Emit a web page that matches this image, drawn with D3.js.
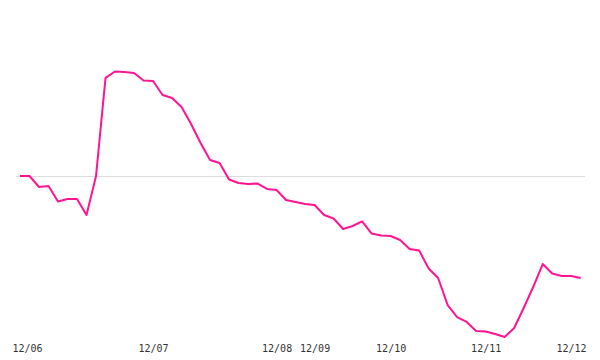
<!DOCTYPE html>
<html>
<head>
<meta charset="utf-8">
<script src="https://cdn.jsdelivr.net/npm/d3@7"></script>
<style>
  html, body { margin: 0; padding: 0; background: #fff; }
  svg { display: block; }
</style>
</head>
<body>
<svg id="chart" width="600" height="360"></svg>
<script>
// Series values (index relative to the first point = 100)
const values = [
  100, 100, 93.3, 93.9, 84.5, 86.0, 86.0, 76.2, 100, 159.8,
  163.7, 163.4, 162.8, 158.2, 157.9, 149.4, 147.6, 142.1, 131.7, 120.1,
  109.8, 107.9, 97.9, 95.7, 95.1, 95.4, 92.1, 91.5, 85.4, 84.1,
  82.9, 82.3, 76.2, 74.1, 67.7, 69.5, 72.3, 64.9, 63.7, 63.4,
  61.0, 55.5, 54.6, 43.6, 37.8, 21.3, 14.0, 11.0, 5.5, 5.2,
  3.7, 1.8, 7.3, 19.5, 32.3, 46.3, 40.5, 39.0, 39.0, 37.8
];
// Tick labels and the point index each belongs to
const tickLabels = ["12/06", "12/07", "12/08", "12/09", "12/10", "12/11", "12/12"];
const tickIndex  = [0, 14, 27, 31, 39, 49, 59];
// Reference line value
const baseline = [100];

const svg = d3.select("#chart");

const x = d3.scaleLinear().domain([0, values.length - 1]).range([20, 580.7]);
const y = d3.scaleLinear().domain([0, 200]).range([340, 12]);

// reference gridline
svg.selectAll("line.grid").data(baseline).join("line")
  .attr("class", "grid")
  .attr("x1", 16).attr("x2", 585)
  .attr("y1", d => Math.round(y(d)) + 0.5).attr("y2", d => Math.round(y(d)) + 0.5)
  .attr("stroke", "#dddddd").attr("stroke-width", 1);

// line
const line = d3.line().x((d, i) => x(i)).y(d => y(d));
svg.append("path")
  .datum(values)
  .attr("d", line)
  .attr("fill", "none")
  .attr("stroke", "#ff1493")
  .attr("stroke-width", 2)
  .attr("stroke-linejoin", "round");

// x-axis labels via axis generator (no domain/ticks lines)
const axis = d3.axisBottom(x)
  .tickValues(tickIndex)
  .tickFormat((d, i) => tickLabels[i])
  .tickSize(0)
  .tickPadding(0);

const g = svg.append("g").attr("transform", "translate(0,345)").call(axis);
g.select(".domain").remove();
g.selectAll("text")
  .attr("font-family", "'DejaVu Sans Mono', monospace")
  .attr("font-size", 10)
  .attr("fill", "#333")
  .attr("dy", "0.71em")
  .attr("y", 0);

// keep end labels inside the plotting bounds
g.selectAll(".tick").each(function(d) {
  const t = d3.select(this).select("text");
  const bb = this.getBBox();
  const cx = x(d);
  let shift = 0;
  if (cx + bb.x < 12) shift = 12 - (cx + bb.x);
  if (cx + bb.x + bb.width > 586) shift = 586 - (cx + bb.x + bb.width);
  t.attr("x", shift);
});
</script>
</body>
</html>
